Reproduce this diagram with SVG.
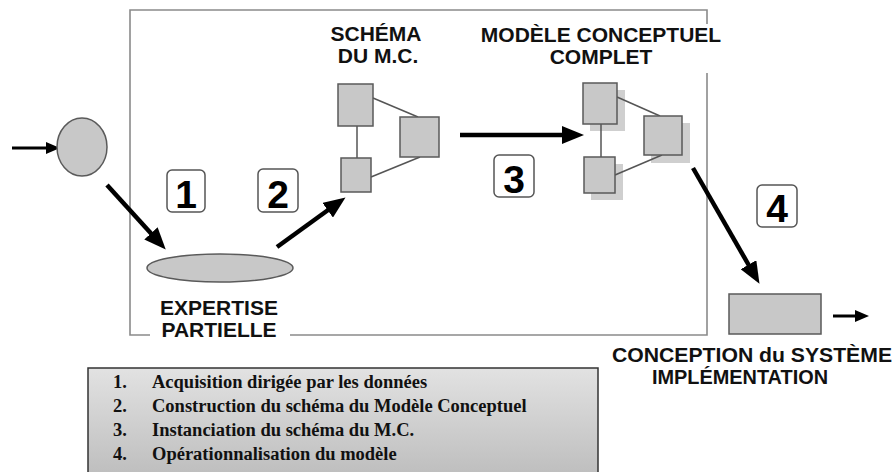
<svg xmlns="http://www.w3.org/2000/svg" width="895" height="472" viewBox="0 0 895 472">
<defs>
<style>
.frame{fill:none;stroke:#8a8a8a;stroke-width:1.6}
.node{fill:#c8c8c8;stroke:#5a5a5a;stroke-width:1.5}
.shadow{fill:#cfcfcf;stroke:none}
.link{stroke:#555;stroke-width:1.5;fill:none}
.arrow{stroke:#000;stroke-width:4.5;fill:none;marker-end:url(#head)}
.small{stroke:#000;stroke-width:3;fill:none;marker-end:url(#headS)}
.numbox{fill:#fff;stroke:#555;stroke-width:1.5}
.num{font-family:"Liberation Sans",Arial,sans-serif;font-weight:bold;font-size:39px;text-anchor:middle;fill:#000}
.title{font-family:"Liberation Sans",Arial,sans-serif;font-weight:bold;font-size:21px;text-anchor:middle;fill:#111}
.leg{font-family:"Liberation Serif","Times New Roman",serif;font-weight:bold;font-size:18.5px;fill:#111}
</style>
<marker id="head" markerUnits="userSpaceOnUse" markerWidth="22" markerHeight="18" refX="9" refY="9" orient="auto">
<path d="M0,0 L22,9 L0,18 z" fill="#000"/>
</marker>
<marker id="headS" markerUnits="userSpaceOnUse" markerWidth="14" markerHeight="12" refX="5" refY="6" orient="auto">
<path d="M0,0 L14,6 L0,12 z" fill="#000"/>
</marker>
<linearGradient id="legGrad" x1="0" y1="0" x2="0" y2="1">
<stop offset="0" stop-color="#e2e2e2"/>
<stop offset="1" stop-color="#bdbdbd"/>
</linearGradient>
</defs>
<rect width="895" height="472" fill="#fff"/>

<g id="frame">
<path class="frame" d="M707,24 V10 H130 V335 H150"/>
<path class="frame" d="M290,335 H707 V73"/>
</g>

<g id="connectors">
<line class="small" x1="12" y1="148" x2="51" y2="148"/>
<line class="arrow" x1="107" y1="185" x2="157" y2="240"/>
<line class="arrow" x1="277" y1="247" x2="335" y2="205"/>
<line class="arrow" x1="460" y1="135" x2="571" y2="135"/>
<line class="arrow" x1="693" y1="168" x2="753" y2="272.5"/>
<line class="small" x1="833" y1="316" x2="860" y2="316"/>
</g>

<g id="source">
<ellipse class="node" cx="82" cy="147" rx="25" ry="29"/>
</g>

<g id="expertise">
<ellipse class="node" cx="220" cy="268" rx="73" ry="14"/>
<text class="title" x="219" y="315">EXPERTISE</text>
<text class="title" x="219" y="337">PARTIELLE</text>
</g>

<g id="schema">
<text class="title" x="376" y="41">SCHÉMA</text>
<text class="title" x="378" y="63">DU M.C.</text>
<line class="link" x1="373" y1="98" x2="418" y2="117"/>
<line class="link" x1="371" y1="177" x2="420" y2="157"/>
<line class="link" x1="357" y1="126" x2="357" y2="158"/>
<rect class="node" x="338" y="84" width="35" height="42"/>
<rect class="node" x="400" y="117" width="39" height="40"/>
<rect class="node" x="341" y="158" width="30" height="34"/>
</g>

<g id="modele">
<text class="title" x="601" y="42">MODÈLE CONCEPTUEL</text>
<text class="title" x="601" y="64">COMPLET</text>
<rect class="shadow" x="590" y="90" width="35" height="41"/>
<rect class="shadow" x="651" y="123" width="39" height="40"/>
<rect class="shadow" x="591" y="164" width="32" height="36"/>
<line class="link" x1="617" y1="97" x2="660" y2="116"/>
<line class="link" x1="615" y1="175" x2="662" y2="155"/>
<line class="link" x1="601" y1="124" x2="601" y2="157"/>
<rect class="node" x="583" y="83" width="34" height="41"/>
<rect class="node" x="644" y="116" width="38" height="39"/>
<rect class="node" x="584" y="157" width="31" height="36"/>
</g>

<g id="conception">
<rect class="node" x="729" y="294" width="92" height="40"/>
<text class="title" x="752" y="362" textLength="280" lengthAdjust="spacingAndGlyphs">CONCEPTION du SYSTÈME</text>
<text class="title" x="740" y="384" textLength="176" lengthAdjust="spacingAndGlyphs">IMPLÉMENTATION</text>
</g>

<g id="step1"><rect class="numbox" x="167" y="170" width="38" height="42" rx="5"/><text class="num" x="186" y="208">1</text></g>
<g id="step2"><rect class="numbox" x="258" y="169" width="40" height="43" rx="5"/><text class="num" x="278" y="208">2</text></g>
<g id="step3"><rect class="numbox" x="494" y="155" width="40" height="42" rx="5"/><text class="num" x="514" y="193">3</text></g>
<g id="step4"><rect class="numbox" x="757" y="185" width="40" height="42" rx="5"/><text class="num" x="777" y="222">4</text></g>

<g id="legend">
<rect x="88" y="368" width="510" height="110" fill="url(#legGrad)" stroke="#333" stroke-width="1.5"/>
<text class="leg" x="113" y="388">1.</text><text class="leg" x="152" y="388">Acquisition dirigée par les données</text>
<text class="leg" x="113" y="412">2.</text><text class="leg" x="152" y="412">Construction du schéma du Modèle Conceptuel</text>
<text class="leg" x="113" y="436">3.</text><text class="leg" x="152" y="436">Instanciation du schéma du M.C.</text>
<text class="leg" x="113" y="460">4.</text><text class="leg" x="152" y="460">Opérationnalisation du modèle</text>
</g>
</svg>
